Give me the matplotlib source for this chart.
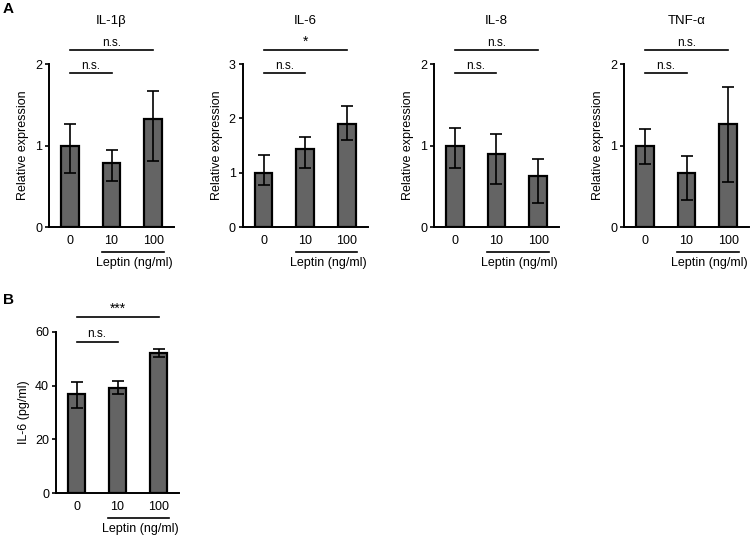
import matplotlib
matplotlib.use('Agg')
import matplotlib.pyplot as plt

plt.rcParams['font.family'] = ['Liberation Sans', 'DejaVu Sans']
plt.rcParams['font.size'] = 9

doses = ['0', '10', '100']

titles = ['IL-1β', 'IL-6', 'IL-8', 'TNF-α']
means = [[1.00, 0.78, 1.32],
         [1.00, 1.44, 1.89],
         [1.00, 0.89, 0.63],
         [1.00, 0.66, 1.26]]
err_hi = [[1.26, 0.94, 1.67],
          [1.33, 1.66, 2.22],
          [1.22, 1.14, 0.83],
          [1.20, 0.87, 1.72]]
err_lo = [[0.66, 0.57, 0.81],
          [0.77, 1.08, 1.60],
          [0.72, 0.53, 0.29],
          [0.77, 0.33, 0.55]]
ymax = [2, 3, 2, 2]
sig_top = ['n.s.', '*', 'n.s.', 'n.s.']
sig_low = ['n.s.', 'n.s.', 'n.s.', 'n.s.']

b_means = [36.7, 39.1, 52.2]
b_hi = [41.2, 41.7, 53.7]
b_lo = [31.8, 36.7, 50.7]

W, H = 751, 537
fig = plt.figure(figsize=(W / 100, H / 100), dpi=100)


def px_axes(left, right, bottom, top):
    return fig.add_axes([left / W, 1 - bottom / H, (right - left) / W, (bottom - top) / H])


def draw_panel(ax, vals, hi, lo, top, s_top, s_low, ylabel, title=None, up=1.083, low=0.942):
    x = [0, 1, 2]
    yerr = [[v - l for v, l in zip(vals, lo)], [h - v for v, h in zip(vals, hi)]]
    ax.bar(x, vals, width=0.42, color='#646464', edgecolor='black', linewidth=1.6, zorder=2)
    ax.errorbar(x, vals, yerr=yerr, fmt='none', ecolor='black', elinewidth=1.2,
                capsize=4.5, capthick=1.2, zorder=3)
    ax.set_xlim(-0.5, 2.5)
    ax.set_ylim(0, top)
    ax.set_xticks(x)
    ax.set_xticklabels(doses, fontsize=9)
    ax.tick_params(axis='x', length=0, pad=5.5)
    ax.tick_params(axis='y', length=3, width=1.2, labelsize=9, pad=2)
    for s in ['top', 'right']:
        ax.spines[s].set_visible(False)
    for s in ['left', 'bottom']:
        ax.spines[s].set_linewidth(1.4)
    ax.set_ylabel(ylabel, fontsize=9, labelpad=4)
    if title:
        ax.set_title(title, fontsize=9.5, y=1.195)
    tr = ax.get_xaxis_transform()
    ax.plot([0, 2], [up, up], color='black', lw=1.2, transform=tr, clip_on=False)
    fs = 10 if '*' in s_top else 8.5
    ax.text(1, up + 0.01, s_top, ha='center', va='bottom', fontsize=fs, transform=tr)
    ax.plot([0, 1], [low, low], color='black', lw=1.2, transform=tr, clip_on=False)
    ax.text(0.5, low + 0.01, s_low, ha='center', va='bottom', fontsize=8.5, transform=tr)
    ax.plot([0.78, 2.25], [-0.155, -0.155], color='black', lw=1.2, transform=tr, clip_on=False)
    ax.text(1.55, -0.185, 'Leptin (ng/ml)', ha='center', va='top', fontsize=9, transform=tr)


lefts = [49, 242.7, 434, 624]
for i in range(4):
    ax = px_axes(lefts[i], lefts[i] + 125, 227, 64)
    draw_panel(ax, means[i], err_hi[i], err_lo[i], ymax[i], sig_top[i], sig_low[i],
               'Relative expression', titles[i])
    ax.set_yticks(range(0, ymax[i] + 1))

axb = px_axes(56, 179, 493.3, 331.7)
draw_panel(axb, b_means, b_hi, b_lo, 60, '***', 'n.s.', 'IL-6 (pg/ml)', up=1.089, low=0.938)
axb.set_yticks([0, 20, 40, 60])

fig.text(8 / W, 1 - 9 / H, 'A', fontsize=11, fontweight='bold', ha='center', va='center')
fig.text(9 / W, 1 - 300 / H, 'B', fontsize=11, fontweight='bold', ha='center', va='center')

fig.savefig('out.png', dpi=100)
